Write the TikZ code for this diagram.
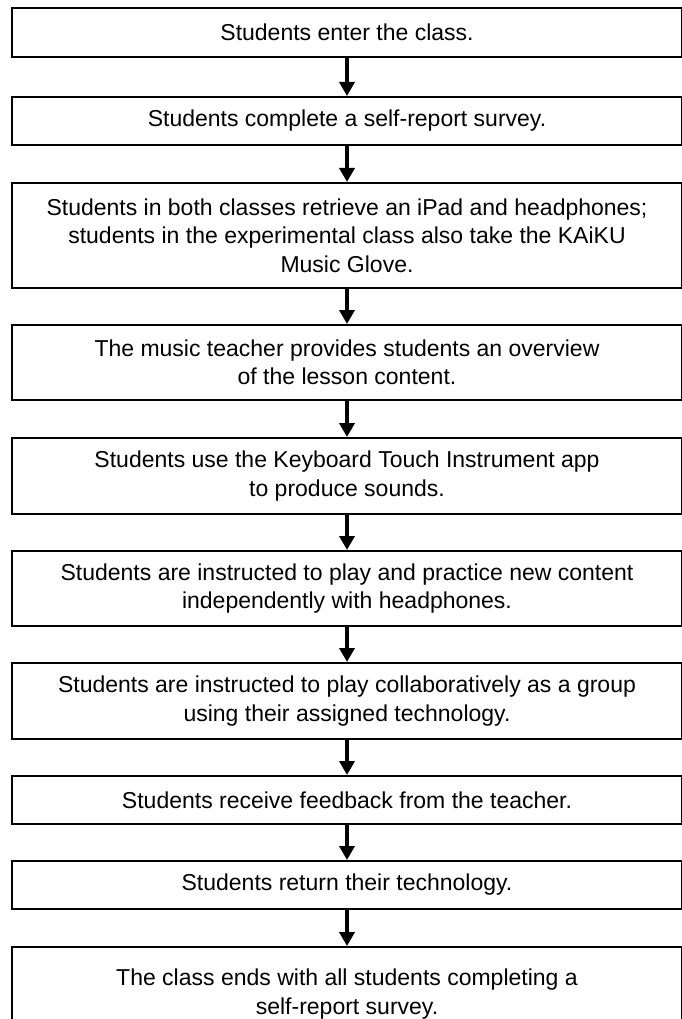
\documentclass[tikz,border=0pt]{standalone}
\usepackage{fontspec}
\setmainfont{Liberation Sans}
\usetikzlibrary{arrows.meta}
\tikzset{
  stepbox/.style={draw=black, line width=2pt, minimum width=670pt, inner sep=0pt,
    align=center, font=\fontsize{23}{28.5}\selectfont, anchor=center},
  flow/.style={line width=4pt, -{Triangle[width=15pt,length=14pt]}}
}
\begin{document}
\begin{tikzpicture}[x=1pt,y=1pt]
\useasboundingbox (0,0) rectangle (681,-1019);
\node[stepbox, minimum height=49pt] (b1) at (347,-32.5) {Students enter the class.};
\node[stepbox, minimum height=48pt] (b2) at (347,-121) {Students complete a self-report survey.};
\node[stepbox, minimum height=105pt] (b3) at (347,-235.5) {Students in both classes retrieve an iPad and headphones;\\students in the experimental class also take the KAiKU\\Music Glove.};
\node[stepbox, minimum height=75pt] (b4) at (347,-362.5) {The music teacher provides students an overview\\of the lesson content.};
\node[stepbox, minimum height=76pt] (b5) at (347,-476) {Students use the Keyboard Touch Instrument app\\to produce sounds.};
\node[stepbox, minimum height=75pt] (b6) at (347,-588.5) {Students are instructed to play and practice new content\\independently with headphones.};
\node[stepbox, minimum height=76pt] (b7) at (347,-701) {Students are instructed to play collaboratively as a group\\using their assigned technology.};
\node[stepbox, minimum height=48pt] (b8) at (347,-800) {Students receive feedback from the teacher.};
\node[stepbox, minimum height=48pt] (b9) at (347,-885) {Students return their technology.};
\node[stepbox, minimum height=94pt] (b10) at (347,-994) {The class ends with all students completing a\\self-report survey.};
\foreach \a/\b in {b1/b2,b2/b3,b3/b4,b4/b5,b5/b6,b6/b7,b7/b8,b8/b9,b9/b10}
  \draw[flow] (\a.south) -- (\b.north);
\end{tikzpicture}
\end{document}
